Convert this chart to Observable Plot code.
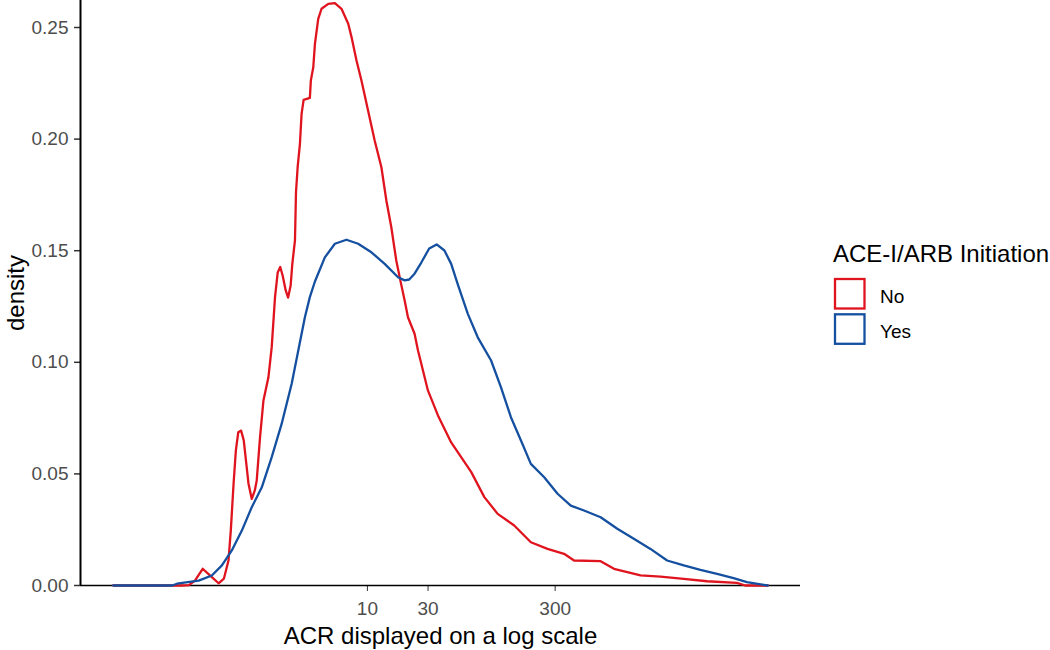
<!DOCTYPE html>
<html>
<head>
<meta charset="utf-8">
<script src="https://cdn.jsdelivr.net/npm/d3@7"></script>
<script src="https://cdn.jsdelivr.net/npm/@observablehq/plot@0.6"></script>
<style>
  body { margin: 0; background: #ffffff; font-family: "Liberation Sans", Arial, sans-serif; }
  #wrap { position: relative; width: 1050px; height: 650px; overflow: hidden; }
  #legend { position: absolute; left: 0; top: 0; pointer-events: none; }
</style>
</head>
<body>
<div id="wrap"></div>
<script>
// ---- data ----
const groups = ["No", "Yes"];
const groupColors = ["#E0141E", "#1550A0"];
const legendTitle = "ACE-I/ARB Initiation";
const xLabel = "ACR displayed on a log scale";
const yLabel = "density";
const xTicks = [10, 30, 300];
const yTicks = [0, 0.05, 0.10, 0.15, 0.20, 0.25];

// ACR on log10 scale and density, group "No"
const noLog10Acr = [-1.000,-0.459,-0.404,-0.357,-0.296,-0.239,-0.171,-0.129,-0.093,-0.075,-0.053,-0.035,-0.016,0.006,0.027,0.064,0.090,0.114,0.129,0.155,0.182,0.221,0.247,0.273,0.294,0.314,0.333,0.357,0.376,0.396,0.409,0.430,0.438,0.451,0.469,0.482,0.498,0.547,0.555,0.574,0.587,0.613,0.639,0.692,0.744,0.796,0.849,0.875,0.914,0.953,1.005,1.057,1.110,1.149,1.188,1.227,1.259,1.293,1.319,1.371,1.398,1.476,1.555,1.659,1.816,1.920,2.025,2.155,2.286,2.417,2.547,2.626,2.835,2.940,3.149,3.306,3.489,3.672,3.907,3.973,4.150];
const noDensity = [0,0,0.0002,0.0022,0.0075,0.0045,0.0010,0.0031,0.0112,0.0246,0.0457,0.0605,0.0687,0.0694,0.0650,0.0457,0.0388,0.0426,0.0470,0.0664,0.0829,0.0933,0.1068,0.1292,0.1402,0.1427,0.1389,0.1322,0.1290,0.1344,0.1441,0.1546,0.1762,0.1874,0.1979,0.2113,0.2176,0.2185,0.2263,0.2322,0.2427,0.2539,0.2584,0.2606,0.2609,0.2584,0.2517,0.2457,0.2352,0.2263,0.2128,0.1994,0.1874,0.1725,0.1605,0.1456,0.1367,0.1277,0.1202,0.1128,0.1053,0.0874,0.0762,0.0641,0.0509,0.0396,0.0321,0.0269,0.0194,0.0164,0.0142,0.0112,0.0109,0.0075,0.0045,0.0040,0.0030,0.0019,0.0012,0,0];

// ACR on log10 scale and density, group "Yes"
const yesLog10Acr = [-1.000,-0.537,-0.498,-0.328,-0.224,-0.145,-0.067,0.012,0.090,0.169,0.247,0.325,0.404,0.456,0.508,0.547,0.587,0.665,0.744,0.835,0.927,1.031,1.136,1.241,1.293,1.329,1.371,1.424,1.486,1.545,1.606,1.659,1.711,1.790,1.868,1.973,2.051,2.129,2.208,2.286,2.391,2.496,2.600,2.704,2.835,2.966,3.096,3.227,3.358,3.489,3.620,3.751,3.881,3.986,4.150];
const yesDensity = [0,0,0.0008,0.0022,0.0045,0.0090,0.0157,0.0246,0.0351,0.0440,0.0575,0.0724,0.0904,0.1053,0.1202,0.1292,0.1362,0.1470,0.1531,0.1549,0.1531,0.1493,0.1441,0.1381,0.1367,0.1371,0.1397,0.1447,0.1510,0.1528,0.1501,0.1441,0.1349,0.1217,0.1112,0.1008,0.0888,0.0754,0.0650,0.0545,0.0485,0.0411,0.0358,0.0336,0.0306,0.0254,0.0209,0.0164,0.0112,0.0090,0.0070,0.0052,0.0033,0.0015,0];

// ---- build table ----
const rows = [
  ...noLog10Acr.map((l, i) => ({group: "No", acr: 10 ** l, density: noDensity[i]})),
  ...yesLog10Acr.map((l, i) => ({group: "Yes", acr: 10 ** l, density: yesDensity[i]}))
];

// ggplot-style 5% expansion of the x range (on the log scale)
const lmin = d3.min([...noLog10Acr, ...yesLog10Acr]);
const lmax = d3.max([...noLog10Acr, ...yesLog10Acr]);
const pad = (lmax - lmin) * 0.05;
const xDomain = [10 ** (lmin - pad), 10 ** (lmax + pad)];

const W = 1050, H = 650;
const mL = 80, mR = 250, mT = 0, mB = 65;
const yTop = 0.2621;
const tickLen = 6;

const chart = Plot.plot({
  width: W,
  height: H,
  marginLeft: mL,
  marginRight: mR,
  marginTop: mT,
  marginBottom: mB,
  style: {fontFamily: "'Liberation Sans', Arial, sans-serif", fontSize: "19px", background: "#ffffff"},
  x: {type: "log", domain: xDomain},
  y: {domain: [0, yTop]},
  color: {domain: groups, range: groupColors},
  marks: [
    // x axis: tick marks, tick labels, title
    Plot.axisX({ticks: xTicks, tickSize: tickLen, stroke: "#333333", fill: "none", label: null}),
    Plot.text(xTicks, {x: d => d, text: d => String(d), frameAnchor: "bottom", lineAnchor: "top", dy: 16, fontSize: 19, fill: "#4d4d4d"}),
    Plot.axisX({ticks: [], label: xLabel, labelAnchor: "center", labelArrow: "none", labelOffset: 58, fontSize: 24, fill: "#000000"}),
    // y axis: tick marks, tick labels, title
    Plot.axisY({ticks: yTicks, tickSize: tickLen, stroke: "#333333", strokeWidth: 1.5, fill: "none", label: null}),
    Plot.text(yTicks, {y: d => d, text: d => d3.format(".2f")(d), frameAnchor: "left", textAnchor: "end", dx: -12, fontSize: 19, fill: "#4d4d4d"}),
    Plot.axisY({ticks: [], label: yLabel, labelAnchor: "center", labelArrow: "none", labelOffset: 74, fontSize: 24, fill: "#000000"}),
    // axis lines
    Plot.ruleY([0], {stroke: "#000000", strokeWidth: 1.5}),
    Plot.ruleX([xDomain[0]], {stroke: "#000000", strokeWidth: 2}),
    // density curves
    Plot.line(rows, {x: "acr", y: "density", z: "group", stroke: "group", strokeWidth: 2.3, strokeLinejoin: "round"})
  ]
});

const wrap = document.getElementById("wrap");
wrap.appendChild(chart);

// ---- legend (right side) ----
const leg = d3.select(wrap).append("svg")
  .attr("id", "legend")
  .attr("width", W).attr("height", H)
  .style("font-family", "'Liberation Sans', Arial, sans-serif");

leg.append("text")
  .attr("x", 833).attr("y", 261.5)
  .attr("font-size", 24).attr("fill", "#000")
  .text(legendTitle);

groups.forEach((g, i) => {
  const y0 = 279 + i * 35.3;
  leg.append("rect")
    .attr("x", 835).attr("y", y0)
    .attr("width", 29.5).attr("height", 29.5)
    .attr("fill", "#fff")
    .attr("stroke", groupColors[i])
    .attr("stroke-width", 2.3);
  leg.append("text")
    .attr("x", 880).attr("y", y0 + 23.8)
    .attr("font-size", 19).attr("fill", "#000")
    .text(g);
});
</script>
</body>
</html>
